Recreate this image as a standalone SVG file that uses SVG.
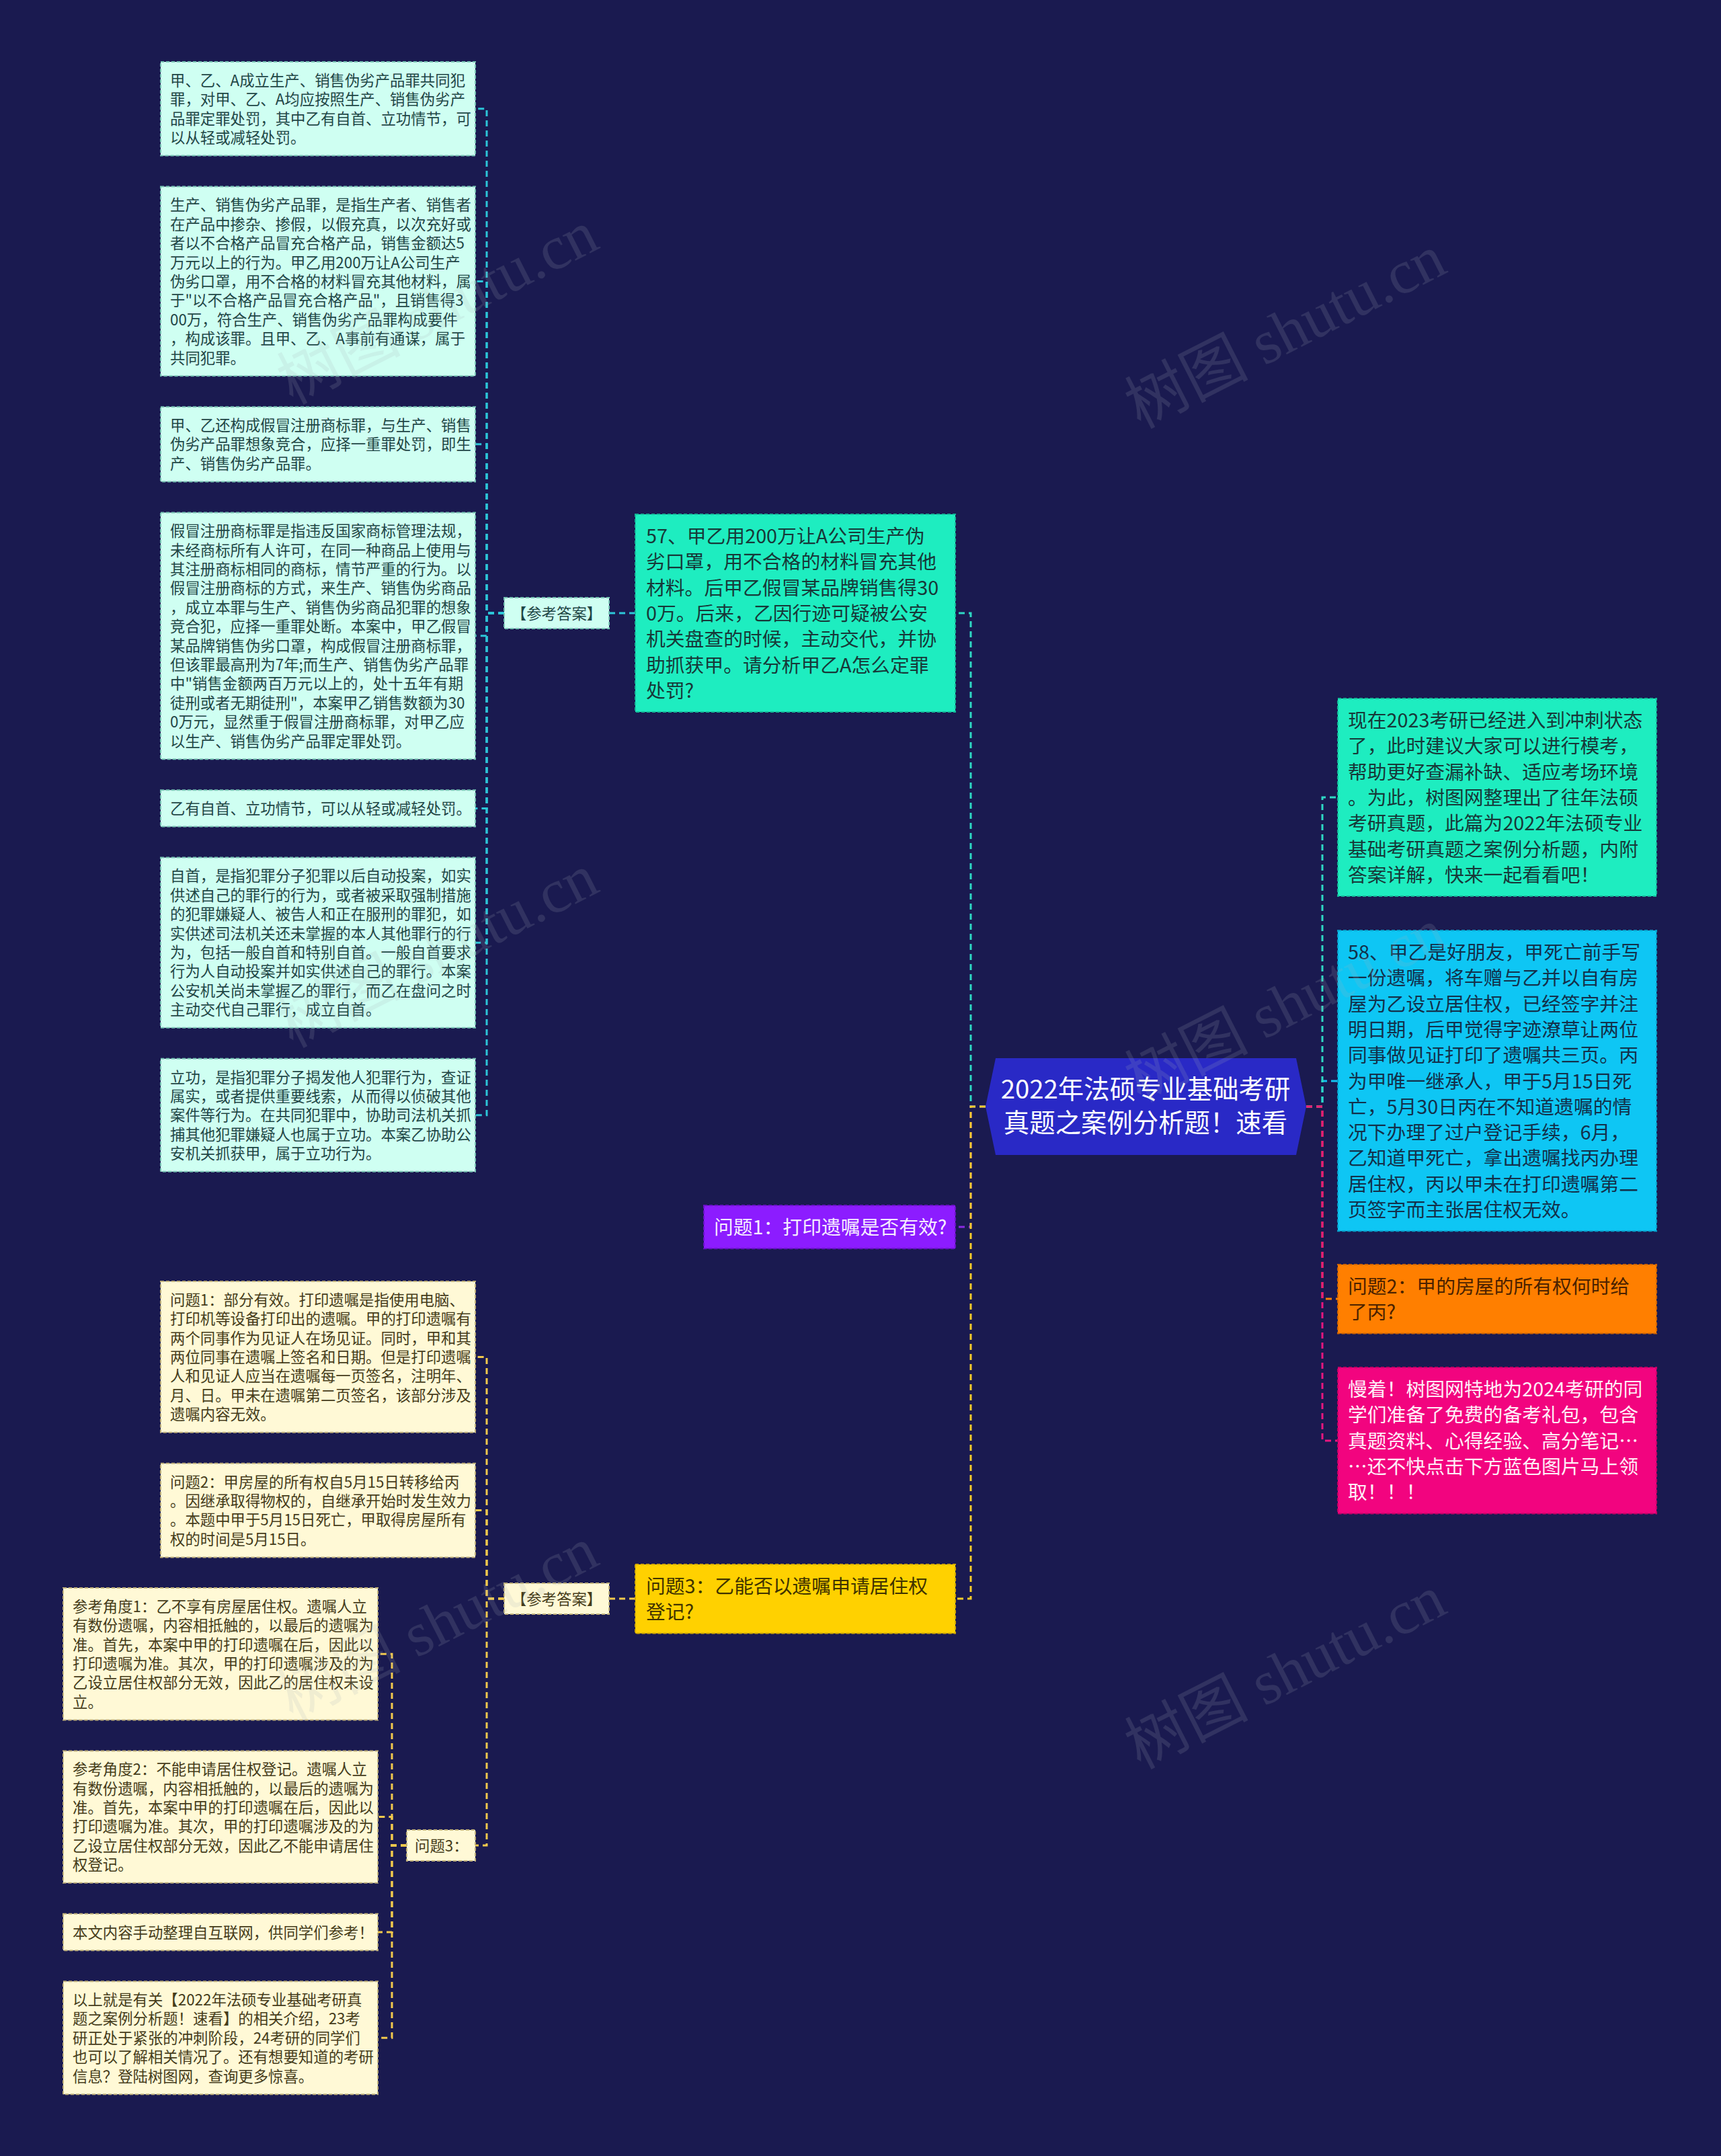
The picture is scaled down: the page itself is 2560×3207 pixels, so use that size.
<svg xmlns="http://www.w3.org/2000/svg" width="2560" height="3207" viewBox="0 0 2560 3207">
<style>
text{font-family:"Noto Sans CJK SC","Liberation Sans",sans-serif}
.s{font-size:22.4px}
.n{font-size:28.8px}
.mint{fill:#cffff2;stroke:#78c4b4;stroke-width:2;stroke-dasharray:5,3}
.cream{fill:#fff9d6;stroke:#bfb07a;stroke-width:2;stroke-dasharray:5,3}
.tm{fill:#1f4646}
.tc{fill:#453c1a}
.c{fill:none;stroke-width:3;stroke-dasharray:9,6}
.wm{font-family:"Liberation Serif","Noto Sans CJK SC",serif;font-size:92px;fill:#a8b0b8;opacity:0.16}
</style>
<rect x="0" y="0" width="2560" height="3207" fill="#1a1a50"/>

<g id="connectors">
<path class="c" stroke="#2ed8c4" d="M1466,1646 H1444 V912 H1421"/>
<path class="c" stroke="#8a2be2" d="M1466,1646 H1444 V1825 H1421"/>
<path class="c" stroke="#f5cc2a" d="M1466,1646 H1444 V2378 H1421"/>
<path class="c" stroke="#12c2f0" d="M1943,1646 H1967 V1608 H1990"/>
<path class="c" stroke="#2ed8c4" d="M1943,1646 H1967 V1186 H1990"/>
<path class="c" stroke="#ff8000" d="M1943,1646 H1967 V1932 H1990"/>
<path class="c" stroke="#e8167f" d="M1943,1646 H1967 V2143 H1990"/>
<path class="c" stroke="#2cc6d8" stroke-width="2.5" d="M945,912 H906"/>
<path class="c" stroke="#2cc6d8" stroke-width="2.5" d="M750,912 H724 V161.8 H707"/>
<path class="c" stroke="#2cc6d8" stroke-width="2.5" d="M750,912 H724 V418.4 H707"/>
<path class="c" stroke="#2cc6d8" stroke-width="2.5" d="M750,912 H724 V660.8 H707"/>
<path class="c" stroke="#2cc6d8" stroke-width="2.5" d="M750,912 H724 V945.8 H707"/>
<path class="c" stroke="#2cc6d8" stroke-width="2.5" d="M750,912 H724 V1202.4 H707"/>
<path class="c" stroke="#2cc6d8" stroke-width="2.5" d="M750,912 H724 V1402.2 H707"/>
<path class="c" stroke="#2cc6d8" stroke-width="2.5" d="M750,912 H724 V1658.8 H707"/>
<path class="c" stroke="#f2c94c" stroke-width="2.5" d="M945,2378 H906"/>
<path class="c" stroke="#f2c94c" stroke-width="2.5" d="M750,2378 H724 V2018.4 H707"/>
<path class="c" stroke="#f2c94c" stroke-width="2.5" d="M750,2378 H724 V2246.6 H707"/>
<path class="c" stroke="#f2c94c" stroke-width="2.5" d="M750,2378 H724 V2745 H707"/>
<path class="c" stroke="#f2c94c" stroke-width="2.5" d="M605,2745 H583 V2460.2 H562"/>
<path class="c" stroke="#f2c94c" stroke-width="2.5" d="M605,2745 H583 V2702.6 H562"/>
<path class="c" stroke="#f2c94c" stroke-width="2.5" d="M605,2745 H583 V2874 H562"/>
<path class="c" stroke="#f2c94c" stroke-width="2.5" d="M605,2745 H583 V3031.2 H562"/>
</g>

<g id="root">
<polygon points="1481,1574 1928,1574 1943,1646 1928,1718 1481,1718 1466,1646" fill="#2929c6"/>
<text x="1704" y="1634" font-size="38.4" fill="#ffffff" text-anchor="middle">2022年法硕专业基础考研</text>
<text x="1704" y="1684" font-size="38.4" fill="#ffffff" text-anchor="middle">真题之案例分析题！速看</text>
</g>

<g id="q57">
<rect x="945" y="765" width="476" height="294" fill="#1eedc0" stroke="#14b898" stroke-width="2" stroke-dasharray="5,3"/>
<text class="n" fill="#173838" x="961" y="808"><tspan x="961">57、甲乙用200万让A公司生产伪</tspan><tspan x="961" dy="38.3">劣口罩，用不合格的材料冒充其他</tspan><tspan x="961" dy="38.3">材料。后甲乙假冒某品牌销售得30</tspan><tspan x="961" dy="38.3">0万。后来，乙因行迹可疑被公安</tspan><tspan x="961" dy="38.3">机关盘查的时候，主动交代，并协</tspan><tspan x="961" dy="38.3">助抓获甲。请分析甲乙A怎么定罪</tspan><tspan x="961" dy="38.3">处罚?</tspan></text>
</g>

<g id="label1">
<rect x="750" y="889" width="156" height="46" class="mint"/>
<text class="s tm" x="828" y="920.5" text-anchor="middle">【参考答案】</text>
</g>

<g id="b1">
<rect x="239" y="92" width="468" height="139.6" class="mint"/>
<text class="s tm" x="253" y="127.7"><tspan x="253">甲、乙、A成立生产、销售伪劣产品罪共同犯</tspan><tspan x="253" dy="28.4">罪，对甲、乙、A均应按照生产、销售伪劣产</tspan><tspan x="253" dy="28.4">品罪定罪处罚，其中乙有自首、立功情节，可</tspan><tspan x="253" dy="28.4">以从轻或减轻处罚。</tspan></text>
</g>
<g id="b2">
<rect x="239" y="277.6" width="468" height="281.6" class="mint"/>
<text class="s tm" x="253" y="313.3"><tspan x="253">生产、销售伪劣产品罪，是指生产者、销售者</tspan><tspan x="253" dy="28.4">在产品中掺杂、掺假，以假充真，以次充好或</tspan><tspan x="253" dy="28.4">者以不合格产品冒充合格产品，销售金额达5</tspan><tspan x="253" dy="28.4">万元以上的行为。甲乙用200万让A公司生产</tspan><tspan x="253" dy="28.4">伪劣口罩，用不合格的材料冒充其他材料，属</tspan><tspan x="253" dy="28.4">于"以不合格产品冒充合格产品"，且销售得3</tspan><tspan x="253" dy="28.4">00万，符合生产、销售伪劣产品罪构成要件</tspan><tspan x="253" dy="28.4">，构成该罪。且甲、乙、A事前有通谋，属于</tspan><tspan x="253" dy="28.4">共同犯罪。</tspan></text>
</g>
<g id="b3">
<rect x="239" y="605.2" width="468" height="111.2" class="mint"/>
<text class="s tm" x="253" y="640.9"><tspan x="253">甲、乙还构成假冒注册商标罪，与生产、销售</tspan><tspan x="253" dy="28.4">伪劣产品罪想象竞合，应择一重罪处罚，即生</tspan><tspan x="253" dy="28.4">产、销售伪劣产品罪。</tspan></text>
</g>
<g id="b4">
<rect x="239" y="762.4" width="468" height="366.8" class="mint"/>
<text class="s tm" x="253" y="798.1"><tspan x="253">假冒注册商标罪是指违反国家商标管理法规，</tspan><tspan x="253" dy="28.4">未经商标所有人许可，在同一种商品上使用与</tspan><tspan x="253" dy="28.4">其注册商标相同的商标，情节严重的行为。以</tspan><tspan x="253" dy="28.4">假冒注册商标的方式，来生产、销售伪劣商品</tspan><tspan x="253" dy="28.4">，成立本罪与生产、销售伪劣商品犯罪的想象</tspan><tspan x="253" dy="28.4">竞合犯，应择一重罪处断。本案中，甲乙假冒</tspan><tspan x="253" dy="28.4">某品牌销售伪劣口罩，构成假冒注册商标罪，</tspan><tspan x="253" dy="28.4">但该罪最高刑为7年;而生产、销售伪劣产品罪</tspan><tspan x="253" dy="28.4">中"销售金额两百万元以上的，处十五年有期</tspan><tspan x="253" dy="28.4">徒刑或者无期徒刑"，本案甲乙销售数额为30</tspan><tspan x="253" dy="28.4">0万元，显然重于假冒注册商标罪，对甲乙应</tspan><tspan x="253" dy="28.4">以生产、销售伪劣产品罪定罪处罚。</tspan></text>
</g>
<g id="b5">
<rect x="239" y="1175.2" width="468" height="54.4" class="mint"/>
<text class="s tm" x="253" y="1210.9">乙有自首、立功情节，可以从轻或减轻处罚。</text>
</g>
<g id="b6">
<rect x="239" y="1275.6" width="468" height="253.2" class="mint"/>
<text class="s tm" x="253" y="1311.3"><tspan x="253">自首，是指犯罪分子犯罪以后自动投案，如实</tspan><tspan x="253" dy="28.4">供述自己的罪行的行为，或者被采取强制措施</tspan><tspan x="253" dy="28.4">的犯罪嫌疑人、被告人和正在服刑的罪犯，如</tspan><tspan x="253" dy="28.4">实供述司法机关还未掌握的本人其他罪行的行</tspan><tspan x="253" dy="28.4">为，包括一般自首和特别自首。一般自首要求</tspan><tspan x="253" dy="28.4">行为人自动投案并如实供述自己的罪行。本案</tspan><tspan x="253" dy="28.4">公安机关尚未掌握乙的罪行，而乙在盘问之时</tspan><tspan x="253" dy="28.4">主动交代自己罪行，成立自首。</tspan></text>
</g>
<g id="b7">
<rect x="239" y="1574.8" width="468" height="168" class="mint"/>
<text class="s tm" x="253" y="1610.5"><tspan x="253">立功，是指犯罪分子揭发他人犯罪行为，查证</tspan><tspan x="253" dy="28.4">属实，或者提供重要线索，从而得以侦破其他</tspan><tspan x="253" dy="28.4">案件等行为。在共同犯罪中，协助司法机关抓</tspan><tspan x="253" dy="28.4">捕其他犯罪嫌疑人也属于立功。本案乙协助公</tspan><tspan x="253" dy="28.4">安机关抓获甲，属于立功行为。</tspan></text>
</g>

<g id="q1">
<rect x="1047" y="1793" width="374" height="64.3" fill="#8c1cff" stroke="#6a10c8" stroke-width="2" stroke-dasharray="5,3"/>
<text class="n" fill="#f6ecff" x="1062" y="1836">问题1：打印遗嘱是否有效?</text>
</g>

<g id="q3">
<rect x="945" y="2327" width="476" height="102.6" fill="#ffd100" stroke="#d2a800" stroke-width="2" stroke-dasharray="5,3"/>
<text class="n" fill="#3f3300" x="961" y="2370"><tspan x="961">问题3：乙能否以遗嘱申请居住权</tspan><tspan x="961" dy="38.3">登记?</tspan></text>
</g>

<g id="label2">
<rect x="750" y="2355" width="156" height="46" class="cream"/>
<text class="s tc" x="828" y="2386.5" text-anchor="middle">【参考答案】</text>
</g>

<g id="ba">
<rect x="239" y="1906" width="468" height="224.8" class="cream"/>
<text class="s tc" x="253" y="1941.7"><tspan x="253">问题1：部分有效。打印遗嘱是指使用电脑、</tspan><tspan x="253" dy="28.4">打印机等设备打印出的遗嘱。甲的打印遗嘱有</tspan><tspan x="253" dy="28.4">两个同事作为见证人在场见证。同时，甲和其</tspan><tspan x="253" dy="28.4">两位同事在遗嘱上签名和日期。但是打印遗嘱</tspan><tspan x="253" dy="28.4">人和见证人应当在遗嘱每一页签名，注明年、</tspan><tspan x="253" dy="28.4">月、日。甲未在遗嘱第二页签名，该部分涉及</tspan><tspan x="253" dy="28.4">遗嘱内容无效。</tspan></text>
</g>
<g id="bb">
<rect x="239" y="2176.8" width="468" height="139.6" class="cream"/>
<text class="s tc" x="253" y="2212.5"><tspan x="253">问题2：甲房屋的所有权自5月15日转移给丙</tspan><tspan x="253" dy="28.4">。因继承取得物权的，自继承开始时发生效力</tspan><tspan x="253" dy="28.4">。本题中甲于5月15日死亡，甲取得房屋所有</tspan><tspan x="253" dy="28.4">权的时间是5月15日。</tspan></text>
</g>

<g id="label3">
<rect x="605" y="2722" width="102" height="46" class="cream"/>
<text class="s tc" x="617" y="2753.5">问题3：</text>
</g>

<g id="p1">
<rect x="94" y="2362" width="468" height="196.4" class="cream"/>
<text class="s tc" x="108" y="2397.7"><tspan x="108">参考角度1：乙不享有房屋居住权。遗嘱人立</tspan><tspan x="108" dy="28.4">有数份遗嘱，内容相抵触的，以最后的遗嘱为</tspan><tspan x="108" dy="28.4">准。首先，本案中甲的打印遗嘱在后，因此以</tspan><tspan x="108" dy="28.4">打印遗嘱为准。其次，甲的打印遗嘱涉及的为</tspan><tspan x="108" dy="28.4">乙设立居住权部分无效，因此乙的居住权未设</tspan><tspan x="108" dy="28.4">立。</tspan></text>
</g>
<g id="p2">
<rect x="94" y="2604.4" width="468" height="196.4" class="cream"/>
<text class="s tc" x="108" y="2640.1"><tspan x="108">参考角度2：不能申请居住权登记。遗嘱人立</tspan><tspan x="108" dy="28.4">有数份遗嘱，内容相抵触的，以最后的遗嘱为</tspan><tspan x="108" dy="28.4">准。首先，本案中甲的打印遗嘱在后，因此以</tspan><tspan x="108" dy="28.4">打印遗嘱为准。其次，甲的打印遗嘱涉及的为</tspan><tspan x="108" dy="28.4">乙设立居住权部分无效，因此乙不能申请居住</tspan><tspan x="108" dy="28.4">权登记。</tspan></text>
</g>
<g id="p3">
<rect x="94" y="2846.8" width="468" height="54.4" class="cream"/>
<text class="s tc" x="108" y="2882.5">本文内容手动整理自互联网，供同学们参考！</text>
</g>
<g id="p4">
<rect x="94" y="2947.2" width="468" height="168" class="cream"/>
<text class="s tc" x="108" y="2982.9"><tspan x="108">以上就是有关【2022年法硕专业基础考研真</tspan><tspan x="108" dy="28.4">题之案例分析题！速看】的相关介绍，23考</tspan><tspan x="108" dy="28.4">研正处于紧张的冲刺阶段，24考研的同学们</tspan><tspan x="108" dy="28.4">也可以了解相关情况了。还有想要知道的考研</tspan><tspan x="108" dy="28.4">信息？登陆树图网，查询更多惊喜。</tspan></text>
</g>

<g id="r1">
<rect x="1990" y="1039" width="474" height="294" fill="#1eedc0" stroke="#14b898" stroke-width="2" stroke-dasharray="5,3"/>
<text class="n" fill="#173838" x="2005" y="1082"><tspan x="2005">现在2023考研已经进入到冲刺状态</tspan><tspan x="2005" dy="38.3">了，此时建议大家可以进行模考，</tspan><tspan x="2005" dy="38.3">帮助更好查漏补缺、适应考场环境</tspan><tspan x="2005" dy="38.3">。为此，树图网整理出了往年法硕</tspan><tspan x="2005" dy="38.3">考研真题，此篇为2022年法硕专业</tspan><tspan x="2005" dy="38.3">基础考研真题之案例分析题，内附</tspan><tspan x="2005" dy="38.3">答案详解，快来一起看看吧！</tspan></text>
</g>
<g id="r2">
<rect x="1990" y="1384" width="474" height="447.3" fill="#0ec6f4" stroke="#079ec8" stroke-width="2" stroke-dasharray="5,3"/>
<text class="n" fill="#13304a" x="2005" y="1427"><tspan x="2005">58、甲乙是好朋友，甲死亡前手写</tspan><tspan x="2005" dy="38.3">一份遗嘱，将车赠与乙并以自有房</tspan><tspan x="2005" dy="38.3">屋为乙设立居住权，已经签字并注</tspan><tspan x="2005" dy="38.3">明日期，后甲觉得字迹潦草让两位</tspan><tspan x="2005" dy="38.3">同事做见证打印了遗嘱共三页。丙</tspan><tspan x="2005" dy="38.3">为甲唯一继承人，甲于5月15日死</tspan><tspan x="2005" dy="38.3">亡，5月30日丙在不知道遗嘱的情</tspan><tspan x="2005" dy="38.3">况下办理了过户登记手续，6月，</tspan><tspan x="2005" dy="38.3">乙知道甲死亡，拿出遗嘱找丙办理</tspan><tspan x="2005" dy="38.3">居住权，丙以甲未在打印遗嘱第二</tspan><tspan x="2005" dy="38.3">页签字而主张居住权无效。</tspan></text>
</g>
<g id="r3">
<rect x="1990" y="1881" width="474" height="102.6" fill="#ff7f00" stroke="#d06400" stroke-width="2" stroke-dasharray="5,3"/>
<text class="n" fill="#4a2200" x="2005" y="1924"><tspan x="2005">问题2：甲的房屋的所有权何时给</tspan><tspan x="2005" dy="38.3">了丙?</tspan></text>
</g>
<g id="r4">
<rect x="1990" y="2034" width="474" height="217.5" fill="#f2047f" stroke="#c40066" stroke-width="2" stroke-dasharray="5,3"/>
<text class="n" fill="#ffeef8" x="2005" y="2077"><tspan x="2005">慢着！树图网特地为2024考研的同</tspan><tspan x="2005" dy="38.3">学们准备了免费的备考礼包，包含</tspan><tspan x="2005" dy="38.3">真题资料、心得经验、高分笔记…</tspan><tspan x="2005" dy="38.3">…还不快点击下方蓝色图片马上领</tspan><tspan x="2005" dy="38.3">取！！！</tspan></text>
</g>

<g id="watermark">
<text class="wm" x="665" y="485" text-anchor="middle" transform="rotate(-27 665 485)">树图 shutu.cn</text>
<text class="wm" x="1926" y="521" text-anchor="middle" transform="rotate(-27 1926 521)">树图 shutu.cn</text>
<text class="wm" x="665" y="1442" text-anchor="middle" transform="rotate(-27 665 1442)">树图 shutu.cn</text>
<text class="wm" x="1926" y="1523" text-anchor="middle" transform="rotate(-27 1926 1523)">树图 shutu.cn</text>
<text class="wm" x="665" y="2443" text-anchor="middle" transform="rotate(-27 665 2443)">树图 shutu.cn</text>
<text class="wm" x="1926" y="2515" text-anchor="middle" transform="rotate(-27 1926 2515)">树图 shutu.cn</text>
</g>
</svg>
